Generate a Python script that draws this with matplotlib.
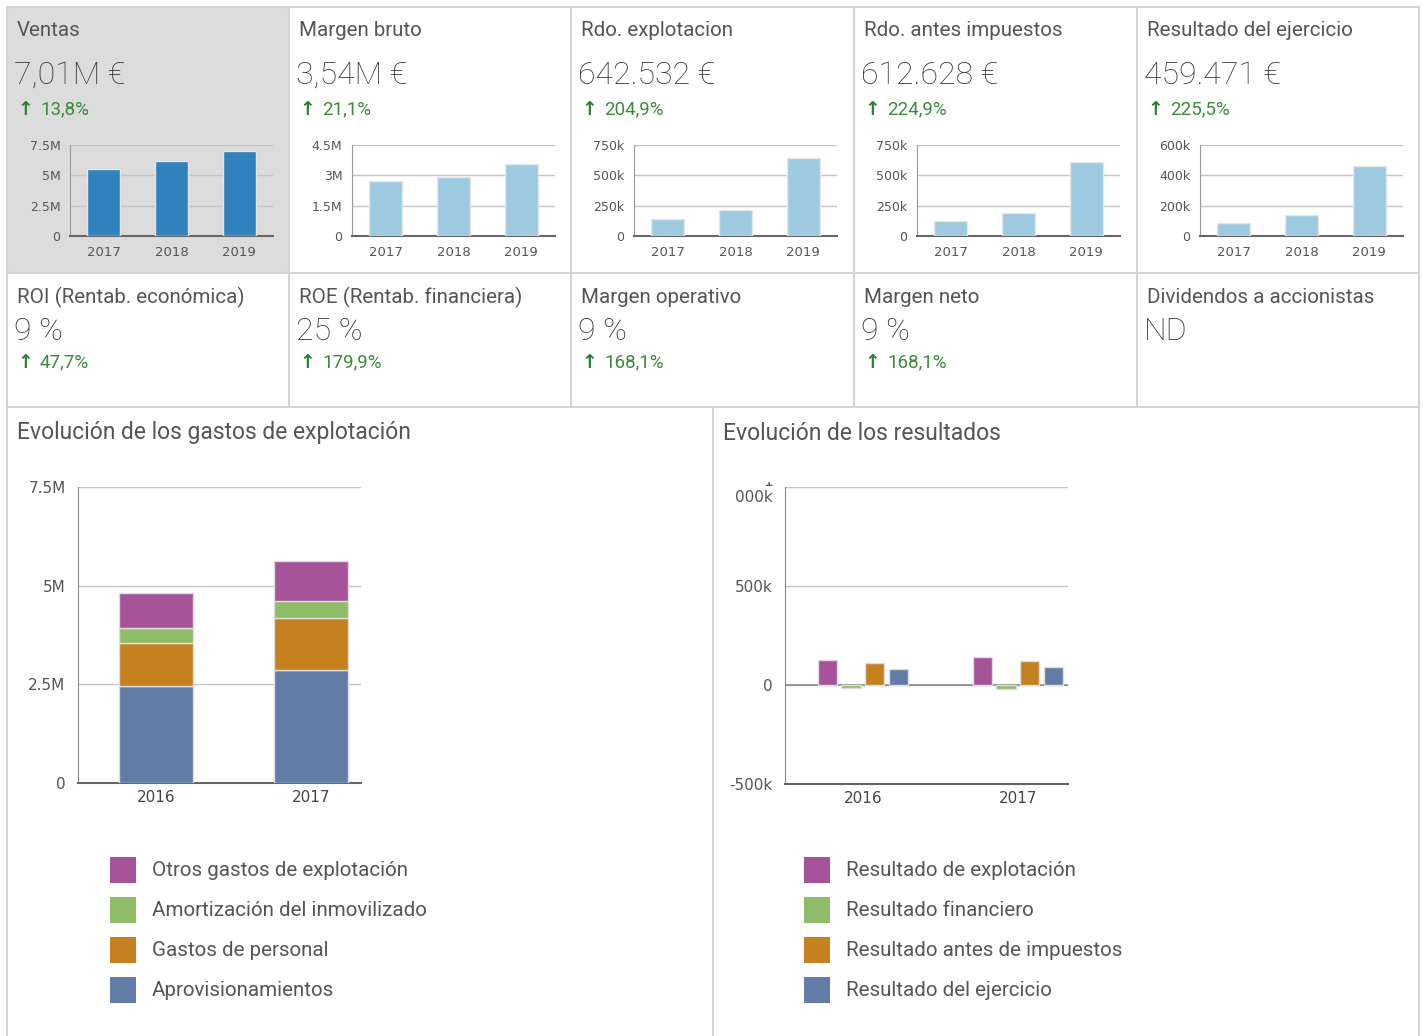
import matplotlib.pyplot as plt
from matplotlib.patches import Rectangle

W, H = 1423, 1036

# datos de los indicadores
titulos_f1 = ["Ventas", "Margen bruto", "Rdo. explotacion", "Rdo. antes impuestos", "Resultado del ejercicio"]
valores_f1 = ["7,01M €", "3,54M €", "642.532 €", "612.628 €", "459.471 €"]
pct_f1 = ["13,8%", "21,1%", "204,9%", "224,9%", "225,5%"]

titulos_f2 = ["ROI (Rentab. económica)", "ROE (Rentab. financiera)", "Margen operativo", "Margen neto", "Dividendos a accionistas"]
valores_f2 = ["9 %", "25 %", "9 %", "9 %", "ND"]
pct_f2 = ["47,7%", "179,9%", "168,1%", "168,1%", None]

anios = ["2017", "2018", "2019"]
ventas = [5.55e6, 6.16e6, 7.01e6]
margen_bruto = [2.74e6, 2.92e6, 3.54e6]
rdo_explotacion = [141e3, 210.7e3, 642.5e3]
rdo_antes_imp = [122e3, 188.6e3, 612.6e3]
resultado_ej = [87e3, 141.2e3, 459.5e3]
mini_series = [ventas, margen_bruto, rdo_explotacion, rdo_antes_imp, resultado_ej]
mini_ticks = [[0, 2.5e6, 5e6, 7.5e6], [0, 1.5e6, 3e6, 4.5e6], [0, 250e3, 500e3, 750e3],
              [0, 250e3, 500e3, 750e3], [0, 200e3, 400e3, 600e3]]
mini_ticklabels = [["0", "2.5M", "5M", "7.5M"], ["0", "1.5M", "3M", "4.5M"], ["0", "250k", "500k", "750k"],
                   ["0", "250k", "500k", "750k"], ["0", "200k", "400k", "600k"]]

anios_ev = ["2016", "2017"]
aprovisionamientos = [2.46e6, 2.86e6]
gastos_personal = [1.08e6, 1.31e6]
amortizacion = [0.38e6, 0.44e6]
otros_gastos = [0.90e6, 1.02e6]

res_explotacion = [126e3, 143e3]
res_financiero = [-17e3, -22e3]
res_antes_imp = [108e3, 121e3]
res_ejercicio = [79e3, 89e3]

MORADO = "#a6539a"
VERDE = "#8fbd67"
NARANJA = "#c5801f"
AZUL = "#617ca6"
GRIS_TXT = "#555555"
BORDE = "#d4d4d4"

fig = plt.figure(figsize=(W / 100, H / 100), dpi=100)
bg = fig.add_axes([0, 0, 1, 1], zorder=0)
bg.set_xlim(0, W)
bg.set_ylim(H, 0)
bg.axis("off")

def px_axes(L, R, T, B):
    return fig.add_axes([L / W, 1 - B / H, (R - L) / W, (B - T) / H], zorder=2)

# rejilla de tarjetas
xs = [7, 289, 571, 854, 1137, 1419]
bg.add_patch(Rectangle((7, 7), 282, 266, facecolor="#dcdcdc", edgecolor="none"))
for x in xs:
    bg.plot([x, x], [7, 407], color=BORDE, lw=1.5)
for y in [7, 273, 407]:
    bg.plot([7, 1419], [y, y], color=BORDE, lw=1.5)
bg.plot([7, 7], [407, 1036], color=BORDE, lw=1.5)
bg.plot([713, 713], [407, 1036], color=BORDE, lw=1.5)
bg.plot([1419, 1419], [407, 1036], color=BORDE, lw=1.5)

def tarjeta(x0, titulo, valor, pct, yt, yv, yp):
    bg.text(x0 + 10, yt, titulo, fontsize=14.8, color=GRIS_TXT, va="center", ha="left", family="Roboto")
    bg.text(x0 + 7, yv, valor, fontsize=23, color="#333333", va="center", ha="left",
            family="Roboto", fontweight="light")
    if pct is not None:
        bg.text(x0 + 10, yp, "↑", fontsize=13.5, color="#2e7d32", va="center", ha="left",
                family="DejaVu Sans", fontweight="bold")
        bg.text(x0 + 33, yp, pct, fontsize=13.5, color="#3c8b3c", va="center", ha="left", family="Roboto")

for i in range(5):
    tarjeta(xs[i], titulos_f1[i], valores_f1[i], pct_f1[i], 30.5, 75, 109.5)
    tarjeta(xs[i], titulos_f2[i], valores_f2[i], pct_f2[i], 297.5, 332, 362.5)

# mini graficos
for i in range(5):
    L = xs[i] + 63
    ax = px_axes(L, L + 203, 145, 236)
    color = "#3182bd" if i == 0 else "#9ecae1"
    ax.bar(range(3), mini_series[i], width=0.49, color=color, edgecolor="#e6e6e6", lw=1, zorder=3)
    ax.set_xlim(-0.5, 2.5)
    ax.set_ylim(0, mini_ticks[i][-1])
    ax.set_yticks(mini_ticks[i])
    ax.set_yticklabels(mini_ticklabels[i], fontsize=9, color=GRIS_TXT, family="DejaVu Sans")
    ax.set_xticks(range(3))
    ax.set_xticklabels(anios, fontsize=9.5, color="#555555", family="DejaVu Sans")
    ax.tick_params(length=0, axis="y", pad=7)
    ax.tick_params(length=0, axis="x", pad=7.5)
    ax.grid(axis="y", color="#c4c4c4", lw=1, zorder=0)
    ax.set_facecolor("none")
    for s in ["top", "right"]:
        ax.spines[s].set_visible(False)
    ax.spines["left"].set_color("#999999")
    ax.spines["bottom"].set_color("#666666")
    ax.spines["bottom"].set_linewidth(1.5)

# paneles inferiores
bg.text(17, 433, "Evolución de los gastos de explotación", fontsize=16.5, color=GRIS_TXT,
        va="center", ha="left", family="Roboto")
bg.text(723, 433, "Evolución de los resultados", fontsize=16.5, color=GRIS_TXT,
        va="center", ha="left", family="Roboto")

def estilo_eje(ax):
    ax.set_facecolor("none")
    for s in ["top", "right"]:
        ax.spines[s].set_visible(False)
    ax.spines["left"].set_color("#888888")
    ax.spines["bottom"].set_color("#666666")
    ax.spines["bottom"].set_linewidth(1.5)
    ax.set_xlim(-0.503, 1.323)
    ax.set_xticks(range(2))
    ax.set_xticklabels(anios_ev, fontsize=11, color="#444444", family="DejaVu Sans")
    ax.tick_params(length=0, axis="x", pad=5)
    ax.tick_params(length=0, axis="y", pad=9, labelsize=11, labelcolor=GRIS_TXT)
    ax.grid(axis="y", color="#c4c4c4", lw=1, zorder=0)

ax1 = px_axes(78, 361, 487, 783)
x = range(2)
base = [0, 0]
for serie, col in [(aprovisionamientos, AZUL), (gastos_personal, NARANJA), (amortizacion, VERDE), (otros_gastos, MORADO)]:
    ax1.bar(x, serie, bottom=base, width=0.48, color=col, edgecolor="#dddddd", lw=1, zorder=3)
    base = [b + s for b, s in zip(base, serie)]
ax1.set_ylim(0, 7.5e6)
ax1.set_yticks([0, 2.5e6, 5e6, 7.5e6])
ax1.set_yticklabels(["0", "2.5M", "5M", "7.5M"])
estilo_eje(ax1)

ax2 = px_axes(785, 1068, 487, 783.7)
paso = 0.152
for k, (serie, col) in enumerate([(res_explotacion, MORADO), (res_financiero, VERDE),
                                  (res_antes_imp, NARANJA), (res_ejercicio, AZUL)]):
    pos = [c + (k - 1.5) * paso for c in x]
    ax2.bar(pos, serie, width=0.125, color=col, edgecolor="#dddddd", lw=1, zorder=3)
ax2.set_ylim(-500e3, 1000e3)
ax2.set_yticks([-500e3, 0, 500e3, 1000e3])
ax2.set_yticklabels(["-500k", "0", "500k", "1\n000k"])
ax2.axhline(0, color="#888888", lw=1.2, zorder=2)
estilo_eje(ax2)
# la etiqueta "1 000k" aparece partida y recortada por arriba
et = ax2.get_yticklabels()[-1]
et.set_linespacing(1.1)
et.set_clip_on(True)
et.set_clip_path(Rectangle((700, 481.5), 100, 40, transform=bg.transData))

# leyendas
ley_izq = ["Otros gastos de explotación", "Amortización del inmovilizado", "Gastos de personal", "Aprovisionamientos"]
ley_der = ["Resultado de explotación", "Resultado financiero", "Resultado antes de impuestos", "Resultado del ejercicio"]
cols_ley = [MORADO, VERDE, NARANJA, AZUL]
for j in range(4):
    yc = 870 + 40 * j
    bg.add_patch(Rectangle((110, yc - 13), 26, 26, facecolor=cols_ley[j], edgecolor="none"))
    bg.text(152, yc, ley_izq[j], fontsize=14.8, color=GRIS_TXT, va="center", ha="left", family="Roboto")
    bg.add_patch(Rectangle((804, yc - 13), 26, 26, facecolor=cols_ley[j], edgecolor="none"))
    bg.text(846, yc, ley_der[j], fontsize=14.8, color=GRIS_TXT, va="center", ha="left", family="Roboto")

fig.savefig("out.png", dpi=100)
